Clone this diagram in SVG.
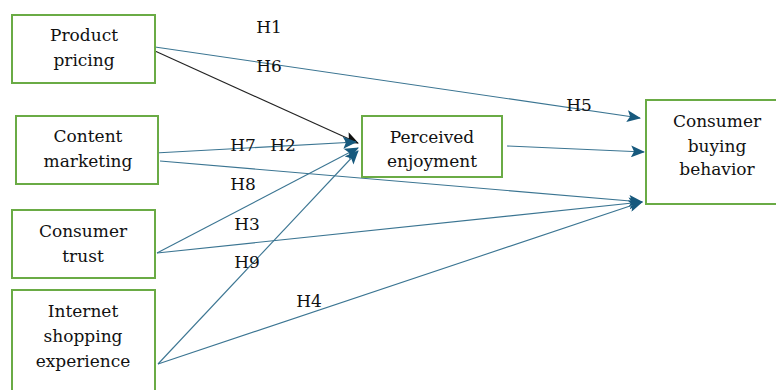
<svg xmlns="http://www.w3.org/2000/svg" width="776" height="390" viewBox="0 0 776 390">
<style>
.box{fill:#fff;stroke:#6aab45;stroke-width:2}
.t{font-family:"DejaVu Serif","Liberation Serif",serif;font-size:17px;fill:#111;text-anchor:middle}
.c{fill:none;stroke:#3b7592;stroke-width:1.1}
.k{fill:none;stroke:#222;stroke-width:1.1}
</style>
<defs>
<marker id="ab" markerUnits="userSpaceOnUse" markerWidth="14" markerHeight="12" viewBox="0 0 14 12" refX="13" refY="6" orient="auto">
<path d="M0,0 L14,6 L0,12 L3,6 z" fill="#17597d"/>
</marker>
<marker id="ak" markerUnits="userSpaceOnUse" markerWidth="14" markerHeight="12" viewBox="0 0 14 12" refX="13" refY="6" orient="auto">
<path d="M0,0 L14,6 L0,12 L3,6 z" fill="#111"/>
</marker>
</defs>
<rect width="776" height="390" fill="#fff"/>
<g id="connectors">
<line class="c" x1="155" y1="47" x2="640" y2="118" marker-end="url(#ab)"/>
<line class="k" x1="155" y1="51" x2="358" y2="143" marker-end="url(#ak)"/>
<line class="c" x1="155" y1="153" x2="356" y2="142" marker-end="url(#ab)"/>
<line class="c" x1="160" y1="161" x2="642" y2="202" marker-end="url(#ab)"/>
<line class="c" x1="157" y1="253" x2="358" y2="148" marker-end="url(#ab)"/>
<line class="c" x1="157" y1="253" x2="642" y2="202" marker-end="url(#ab)"/>
<line class="c" x1="158" y1="364" x2="358" y2="151" marker-end="url(#ab)"/>
<line class="c" x1="158" y1="364" x2="642" y2="202" marker-end="url(#ab)"/>
<line class="c" x1="507" y1="146" x2="644" y2="152" marker-end="url(#ab)"/>
</g>
<g id="labels">
<text class="t" x="269" y="33">H1</text>
<text class="t" x="269" y="72">H6</text>
<text class="t" x="243" y="151">H7</text>
<text class="t" x="283" y="151">H2</text>
<text class="t" x="243" y="190">H8</text>
<text class="t" x="247" y="230">H3</text>
<text class="t" x="247" y="268">H9</text>
<text class="t" x="309" y="307">H4</text>
<text class="t" x="579" y="111">H5</text>
</g>
<g id="product-pricing">
<rect class="box" x="12" y="15" width="143" height="68"/>
<text class="t" x="84" y="41">Product</text>
<text class="t" x="84" y="66">pricing</text>
</g>
<g id="content-marketing">
<rect class="box" x="16" y="116" width="142" height="68"/>
<text class="t" x="88" y="142">Content</text>
<text class="t" x="88" y="167">marketing</text>
</g>
<g id="consumer-trust">
<rect class="box" x="12" y="210" width="143" height="68"/>
<text class="t" x="83" y="237">Consumer</text>
<text class="t" x="83" y="262">trust</text>
</g>
<g id="internet-shopping-experience">
<rect class="box" x="12" y="290" width="143" height="104"/>
<text class="t" x="83" y="317">Internet</text>
<text class="t" x="83" y="342">shopping</text>
<text class="t" x="83" y="367">experience</text>
</g>
<g id="perceived-enjoyment">
<rect class="box" x="362" y="116" width="140" height="61"/>
<text class="t" x="432" y="143">Perceived</text>
<text class="t" x="432" y="167">enjoyment</text>
</g>
<g id="consumer-buying-behavior">
<rect class="box" x="646" y="100" width="134" height="104"/>
<text class="t" x="717" y="127">Consumer</text>
<text class="t" x="717" y="152">buying</text>
<text class="t" x="717" y="175">behavior</text>
</g>
</svg>
